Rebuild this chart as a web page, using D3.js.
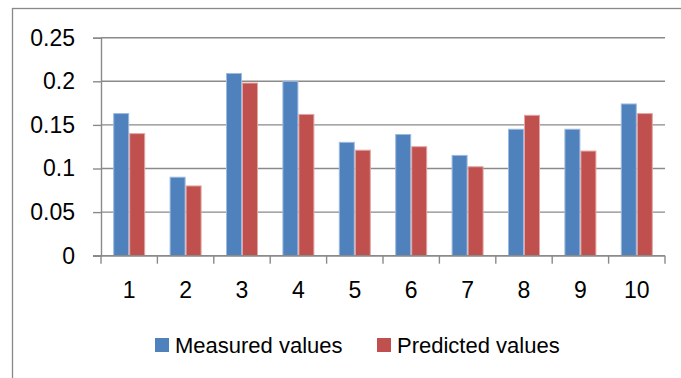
<!DOCTYPE html>
<html><head><meta charset="utf-8">
<script src="https://cdn.jsdelivr.net/npm/d3@7"></script>
<style>body{margin:0;background:#fff}svg{display:block}</style>
</head><body><svg id="c" width="681" height="378"></svg>
<script>
const categories = ["1","2","3","4","5","6","7","8","9","10"];
const seriesNames = ["Measured values","Predicted values"];
const measured  = [0.163,0.090,0.209,0.200,0.130,0.139,0.115,0.145,0.145,0.174];
const predicted = [0.140,0.080,0.198,0.162,0.121,0.125,0.102,0.161,0.120,0.163];
const yTicks = [0,0.05,0.1,0.15,0.2,0.25];
const yTickLabels = ["0","0.05","0.1","0.15","0.2","0.25"];
const colors = ["#4F81BD","#C0504D"];
const strokes = ["#9DB9DE","#E3A5A3"];

const svg = d3.select("#c");
const font = "'Liberation Sans', Arial, sans-serif";
const L = 101, R = 665, T = 37.7, B = 255.7;

// outer border
svg.append("rect").attr("x",12.5).attr("y",8.5).attr("width",700).attr("height",400)
  .attr("fill","none").attr("stroke","#888").attr("stroke-width",1.3);

const x0 = d3.scaleBand().domain(categories).range([L,R]).padding(0);
const x1 = d3.scaleBand().domain(seriesNames).range([0,x0.bandwidth()]).paddingInner(0).paddingOuter(0.7625);
const y = d3.scaleLinear().domain([0,0.25]).range([B,T]);

// gridlines
svg.append("g").selectAll("line").data(yTicks).join("line")
  .attr("x1",L).attr("x2",R).attr("y1",d=>y(d)).attr("y2",d=>y(d))
  .attr("stroke","#8a8a8a").attr("stroke-width",1.4);

// y axis
const yAxis = d3.axisLeft(y).tickValues(yTicks).tickSize(8).tickPadding(18)
  .tickFormat((d,i)=>yTickLabels[i]);
const gy = svg.append("g").attr("transform",`translate(${L},0)`).call(yAxis);
gy.select(".domain").attr("stroke","#8a8a8a").attr("stroke-width",1.4);
gy.selectAll(".tick line").attr("stroke","#8a8a8a").attr("stroke-width",1.4);
gy.selectAll("text").attr("font-family",font).attr("font-size",23).attr("fill","#000");

// bars
const data = categories.map((c,i)=>({c, vals:[measured[i],predicted[i]]}));
const groups = svg.append("g").selectAll("g").data(data).join("g")
  .attr("transform",d=>`translate(${x0(d.c)},0)`);
groups.selectAll("rect").data(d=>d.vals.map((v,j)=>({v,j}))).join("rect")
  .attr("x",d=>x1(seriesNames[d.j])+0.5)
  .attr("width",x1.bandwidth()-1)
  .attr("y",d=>y(d.v))
  .attr("height",d=>B-y(d.v))
  .attr("fill",d=>colors[d.j])
  .attr("stroke",d=>strokes[d.j]).attr("stroke-width",1);

// x axis
const xTickScale = d3.scaleLinear().domain([0,categories.length]).range([L,R]);
const gx = svg.append("g");
gx.append("line").attr("x1",L-8).attr("x2",R).attr("y1",B).attr("y2",B)
  .attr("stroke","#8a8a8a").attr("stroke-width",1.4);
gx.selectAll("line.t").data(d3.range(categories.length+1)).join("line").attr("class","t")
  .attr("x1",d=>xTickScale(d)).attr("x2",d=>xTickScale(d)).attr("y1",B).attr("y2",B+8)
  .attr("stroke","#8a8a8a").attr("stroke-width",1.4);
gx.selectAll("text").data(categories).join("text")
  .attr("x",d=>x0(d)+x0.bandwidth()/2).attr("y",298)
  .attr("text-anchor","middle").attr("font-family",font).attr("font-size",23).attr("fill","#000")
  .text(d=>d);

// legend
const legendX = [155,377];
const lg = svg.append("g").selectAll("g").data(seriesNames).join("g")
  .attr("transform",(d,i)=>`translate(${legendX[i]},338)`);
lg.append("rect").attr("width",14).attr("height",14).attr("fill",(d,i)=>colors[i]);
lg.append("text").attr("x",20).attr("y",14.8).attr("font-family",font).attr("font-size",22)
  .attr("fill","#000").text(d=>d);
</script></body></html>
